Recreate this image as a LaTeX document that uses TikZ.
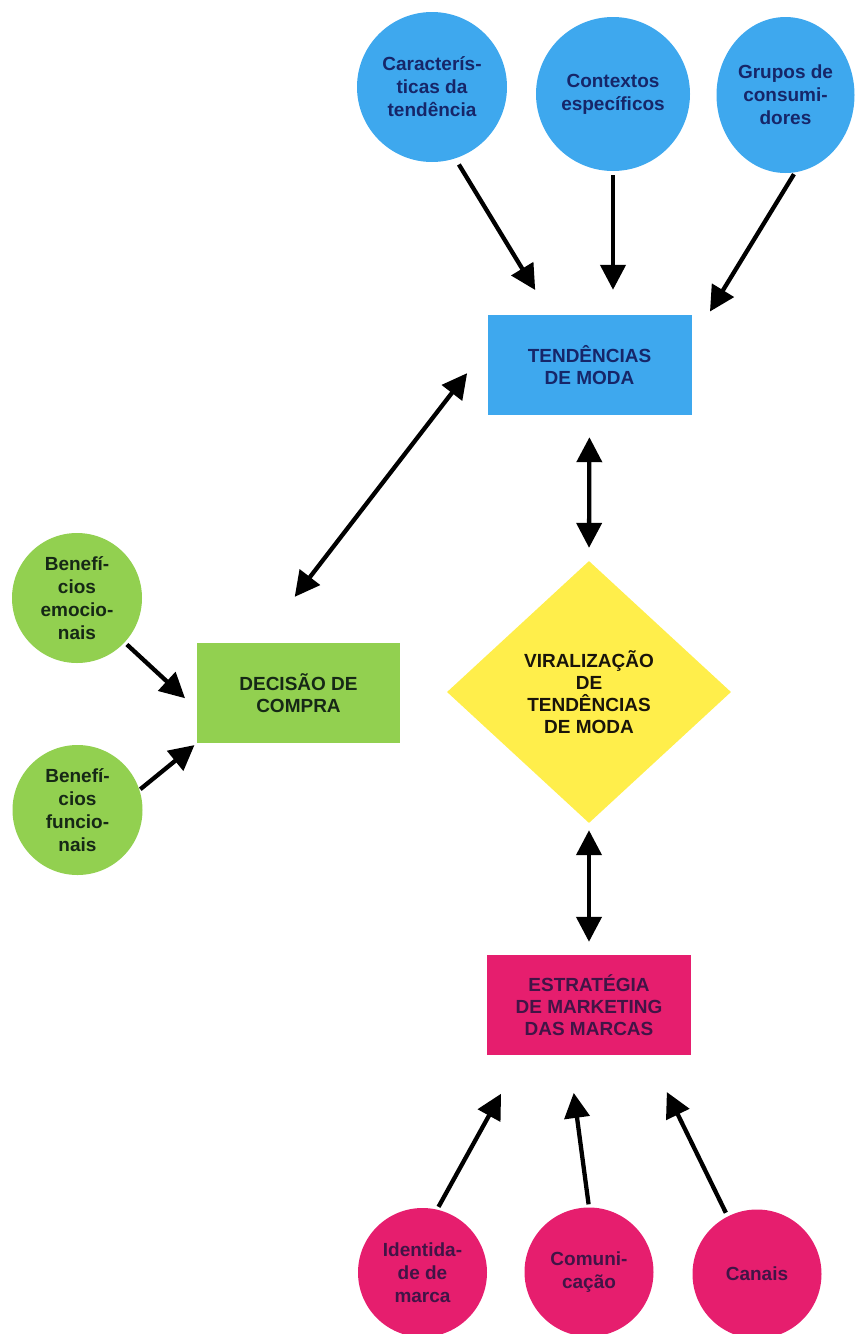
\documentclass[tikz,border=0pt]{standalone}
\usepackage{fontspec}
\setmainfont{Liberation Sans}
\usepackage{tikz}
\usetikzlibrary{arrows.meta,shapes.geometric}

\definecolor{trendblue}{RGB}{62,168,238}
\definecolor{trendtext}{RGB}{22,38,105}
\definecolor{buygreen}{RGB}{146,208,80}
\definecolor{buytext}{RGB}{22,40,22}
\definecolor{viralyellow}{RGB}{255,238,75}
\definecolor{viraltext}{RGB}{25,20,10}
\definecolor{brandpink}{RGB}{230,30,110}
\definecolor{brandtext}{RGB}{65,20,70}

\begin{document}
\begin{tikzpicture}[x=1pt, y=-1pt,
    every node/.style={align=center, inner sep=0pt, font=\bfseries\fontsize{19}{22}\selectfont},
    bubble/.style={circle, font=\bfseries\fontsize{19}{23}\selectfont},
    factor/.style={bubble, fill=trendblue, text=trendtext},
    benefit/.style={bubble, fill=buygreen, text=buytext, minimum size=130pt},
    brandin/.style={bubble, fill=brandpink, text=brandtext, minimum size=129pt},
    block/.style={rectangle, minimum height=100pt, minimum width=204pt},
    conn/.style={line width=4.3pt, -{Triangle[length=25pt,width=25pt]}},
    biconn/.style={line width=4.3pt, {Triangle[length=25pt,width=25pt]}-{Triangle[length=25pt,width=25pt]}}]

    \useasboundingbox (0,0) rectangle (862,1334);

    % Fatores das tendencias
    \node[factor, minimum size=150pt] (ctend) at (432,87) {Caracterís-\\ticas da\\tendência};
    \node[factor, minimum size=154pt] (ctx) at (613,94) {Contextos\\específicos};
    \node[factor, ellipse, minimum width=138pt, minimum height=156pt] (grp) at (785.5,95) {Grupos de\\consumi-\\dores};

    % Blocos principais
    \node[block, fill=trendblue, text=trendtext] (trend) at (589.5,365) {TENDÊNCIAS\\DE MODA};
    \node[block, fill=buygreen, text=buytext, minimum width=203pt] (decisao) at (298.5,693) {DECISÃO DE\\COMPRA};
    \node[diamond, fill=viralyellow, text=viraltext, minimum width=284pt, minimum height=262pt] (viral) at (589,692) {VIRALIZAÇÃO\\DE\\TENDÊNCIAS\\DE MODA};
    \node[block, fill=brandpink, text=brandtext] (estrat) at (589,1005) {ESTRATÉGIA\\DE MARKETING\\DAS MARCAS};

    % Beneficios
    \node[benefit] (benemo) at (77,598) {Benefí-\\cios\\emocio-\\nais};
    \node[benefit] (benfun) at (77.5,810) {Benefí-\\cios\\funcio-\\nais};

    % Marca
    \node[brandin] (ident) at (422.5,1272.5) {Identida-\\de de\\marca};
    \node[brandin] (comun) at (589,1272) {Comuni-\\cação};
    \node[brandin] (canais) at (757,1274) {Canais};

    % Setas para as tendencias
    \draw[conn, shorten <=7pt, shorten >=29pt] (ctend.-72) -- (trend.128);
    \draw[conn, shorten <=4pt, shorten >=25pt] (ctx.south) -- (ctx.south |- trend.north);
    \draw[conn, shorten <=2pt, shorten >=35pt] (grp.-83) -- (trend.13);

    % Setas duplas
    \draw[biconn, shorten <=33pt, shorten >=58pt] (trend.170) -- (decisao.128);
    \draw[biconn, shorten <=22pt, shorten >=13pt] (trend.south) -- (viral.north);
    \draw[biconn, shorten <=7pt, shorten >=13pt] (viral.south) -- (estrat.north);

    % Setas para a decisao
    \draw[conn, shorten <=3pt, shorten >=16pt] (benemo.-43) -- (decisao.189);
    \draw[conn, shorten <=1pt, shorten >=3pt] (benfun.18) -- (decisao.south west);

    % Setas para a estrategia
    \draw[conn, shorten <=3pt, shorten >=44pt] (ident.77) -- (estrat.-143);
    \draw[conn, shorten <=3pt, shorten >=38pt] (comun.north) -- (estrat.-112);
    \draw[conn, shorten <=4pt, shorten >=41pt] (canais.117) -- (estrat.-40);

\end{tikzpicture}
\end{document}
